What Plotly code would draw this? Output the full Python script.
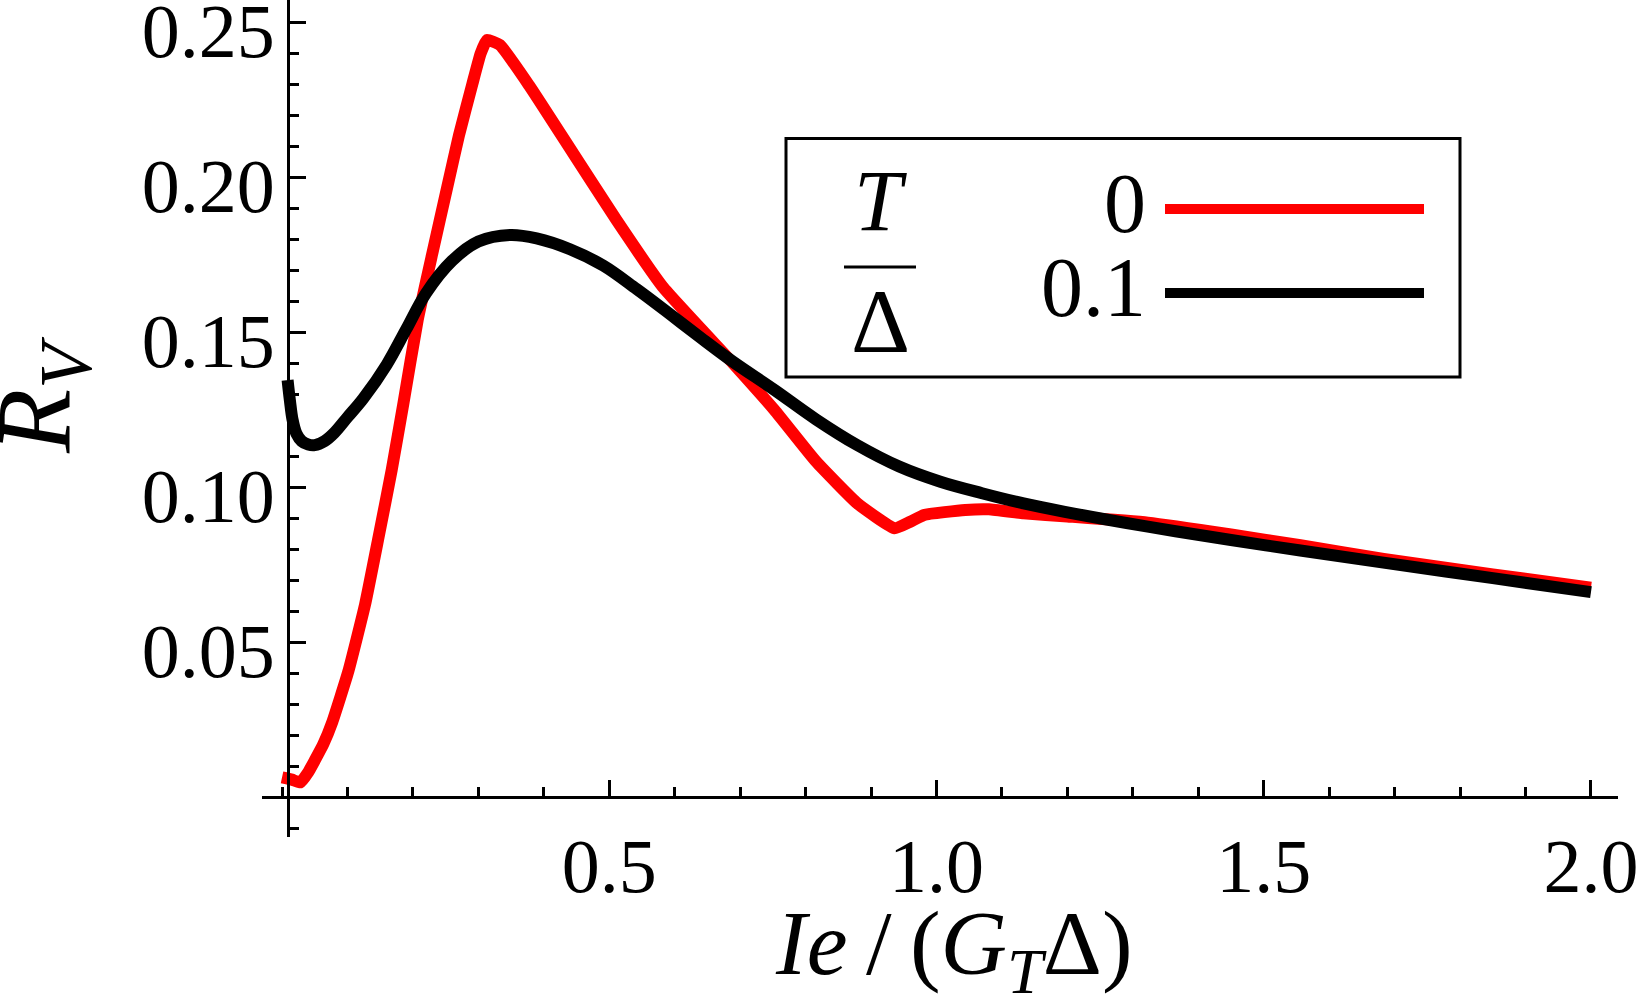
import plotly.graph_objects as go

# --- data ---
# T/Delta = 0
x_t0 = [0.0, 0.015, 0.028, 0.04, 0.05, 0.063, 0.077, 0.1013, 0.1268, 0.1472, 0.1676,
        0.1855, 0.2073, 0.2297, 0.2526, 0.2704, 0.2908, 0.3036, 0.313, 0.333, 0.379,
        0.445, 0.511, 0.5816, 0.689, 0.7525, 0.816, 0.879, 0.936, 0.96, 0.981, 1.044,
        1.08, 1.133, 1.2, 1.323, 1.45, 1.556, 1.683, 1.85, 2.0]
rv_t0 = [0.0063, 0.0056, 0.0047, 0.0080, 0.0118, 0.0170, 0.0243, 0.0405, 0.0620, 0.0835,
         0.1055, 0.1270, 0.1539, 0.1754, 0.1969, 0.2135, 0.2300, 0.2399, 0.2442, 0.2426,
         0.2291, 0.2076, 0.1861, 0.1646, 0.1399, 0.1248, 0.1082, 0.0947, 0.0867, 0.0888,
         0.0910, 0.0926, 0.0928, 0.0915, 0.0905, 0.0885, 0.0847, 0.0812, 0.0768, 0.0718,
         0.0675]

# T/Delta = 0.1
x_t01 = [0.0085, 0.012, 0.016, 0.022, 0.03, 0.04, 0.05, 0.065, 0.08, 0.10, 0.124, 0.16,
         0.19, 0.22, 0.26, 0.30, 0.3484, 0.389, 0.44, 0.491, 0.542, 0.593, 0.6437,
         0.689, 0.7525, 0.816, 0.879, 0.943, 1.006, 1.0695, 1.133, 1.196, 1.323, 1.45,
         1.556, 1.683, 1.85, 2.0]
rv_t01 = [0.1345, 0.1280, 0.1218, 0.1172, 0.1148, 0.1137, 0.1135, 0.1148, 0.1175, 0.1225,
          0.1285, 0.1395, 0.1510, 0.1625, 0.1730, 0.1792, 0.1813, 0.1802, 0.1767, 0.1714,
          0.1638, 0.1557, 0.1475, 0.1404, 0.1313, 0.1218, 0.1135, 0.1066, 0.1017, 0.0980,
          0.0947, 0.0920, 0.0872, 0.0829, 0.0795, 0.0756, 0.0706, 0.0661]

series_names = ["0", "0.1"]
series_colors = ["#ff0000", "#000000"]

x_tickvals = [0, 0.5, 1.0, 1.5, 2.0]
x_ticktext = ["", "0.5", "1.0", "1.5", "2.0"]
y_tickvals = [0.05, 0.10, 0.15, 0.20, 0.25]
y_ticktext = ["0.05", "0.10", "0.15", "0.20", "0.25"]
x_minor = [i / 10 for i in range(0, 21)]
y_minor = [i / 100 for i in range(-1, 26)]

# --- layout geometry, in pixels of the picture ---
W, H = 1636, 1008
PL, PR, PT, PB = 262, 1618, 0, 837   # plot area edges
X_RANGE = [-0.0306, 2.0413]
Y_RANGE = [(797 - PB) / 3100, (797 - PT) / 3100]
Y_AXIS_AT = 0.009
FONT = "Liberation Serif"


def px(x, y):
    # pixel -> paper coords
    return (x - PL) / (PR - PL), (PB - y) / (PB - PT)


fig = go.Figure()
fig.add_trace(go.Scatter(x=x_t0, y=rv_t0, mode="lines", name=series_names[0],
                         line=dict(color=series_colors[0], width=12, shape="spline",
                                   smoothing=0.4),
                         showlegend=False))
fig.add_trace(go.Scatter(x=x_t01, y=rv_t01, mode="lines", name=series_names[1],
                         line=dict(color=series_colors[1], width=12, shape="spline",
                                   smoothing=1.0),
                         showlegend=False))

axis_common = dict(showgrid=False, zeroline=False, showline=True, linecolor="black",
                   linewidth=3, ticks="inside", tickcolor="black", tickwidth=3,
                   ticklen=16, anchor="free", ticklabeloverflow="allow",
                   automargin=False,
                   tickfont=dict(family=FONT, size=76, color="black"))

fig.update_layout(
    width=W, height=H,
    margin=dict(l=PL, r=W - PR, t=PT, b=H - PB, pad=0, autoexpand=False),
    plot_bgcolor="white", paper_bgcolor="white",
    xaxis=dict(range=X_RANGE, tickmode="array", tickvals=x_tickvals, ticktext=x_ticktext,
               position=(0 - Y_RANGE[0]) / (Y_RANGE[1] - Y_RANGE[0]),
               ticklabelstandoff=2,
               minor=dict(tickmode="array", tickvals=x_minor, ticks="inside",
                          ticklen=9, tickwidth=3, tickcolor="black"),
               **axis_common),
    yaxis=dict(range=Y_RANGE, tickmode="array", tickvals=y_tickvals, ticktext=y_ticktext,
               position=(Y_AXIS_AT - X_RANGE[0]) / (X_RANGE[1] - X_RANGE[0]),
               ticklabelstandoff=-3, ticklabelshift=8,
               minor=dict(tickmode="array", tickvals=y_minor, ticks="inside",
                          ticklen=9, tickwidth=3, tickcolor="black"),
               **axis_common),
)

# axis titles
tx, ty = px(954, 950)
fig.add_annotation(x=tx, y=ty, xref="paper", yref="paper", showarrow=False,
                   text="<i>Ie</i>\u2009/\u2009(<i>G</i><sub><i>T</i></sub>Δ)",
                   font=dict(family=FONT, size=92, color="black"),
                   xanchor="center", yanchor="middle")
tx, ty = px(41, 396)
fig.add_annotation(x=tx, y=ty, xref="paper", yref="paper", showarrow=False,
                   text="<i>R</i><sub><i>V</i></sub>", textangle=-90,
                   font=dict(family=FONT, size=105, color="black"),
                   xanchor="center", yanchor="middle")

# legend box
x0, y0 = px(786, 377)
x1, y1 = px(1460, 138.5)
fig.add_shape(type="rect", xref="paper", yref="paper", x0=x0, y0=y0, x1=x1, y1=y1,
              line=dict(color="black", width=3), fillcolor="white", layer="above")
for name, color, yc in [(series_names[0], series_colors[0], 209),
                        (series_names[1], series_colors[1], 293)]:
    a, b = px(1165, yc)
    c, _ = px(1424, yc)
    fig.add_shape(type="line", xref="paper", yref="paper", x0=a, y0=b, x1=c, y1=b,
                  line=dict(color=color, width=10), layer="above")
    tx, ty = px(1148, yc - 6)
    fig.add_annotation(x=tx, y=ty, xref="paper", yref="paper", showarrow=False,
                       text=name, font=dict(family=FONT, size=84, color="black"),
                       xanchor="right", yanchor="middle")

# T / Delta label
tx, ty = px(880, 201)
fig.add_annotation(x=tx, y=ty, xref="paper", yref="paper", showarrow=False,
                   text="<i>T</i>", font=dict(family=FONT, size=86, color="black"),
                   xanchor="center", yanchor="middle")
a, b = px(844, 267)
c, _ = px(916, 267)
fig.add_shape(type="line", xref="paper", yref="paper", x0=a, y0=b, x1=c, y1=b,
              line=dict(color="black", width=3), layer="above")
tx, ty = px(880, 321)
fig.add_annotation(x=tx, y=ty, xref="paper", yref="paper", showarrow=False,
                   text="Δ", font=dict(family=FONT, size=92, color="black"),
                   xanchor="center", yanchor="middle")

# the page body has an 8px default margin; drop it so the figure fills the window
fig.write_html("out.html", config={"displayModeBar": False},
               post_script="document.body.style.margin='0';"
                           "document.body.style.overflow='hidden';")
